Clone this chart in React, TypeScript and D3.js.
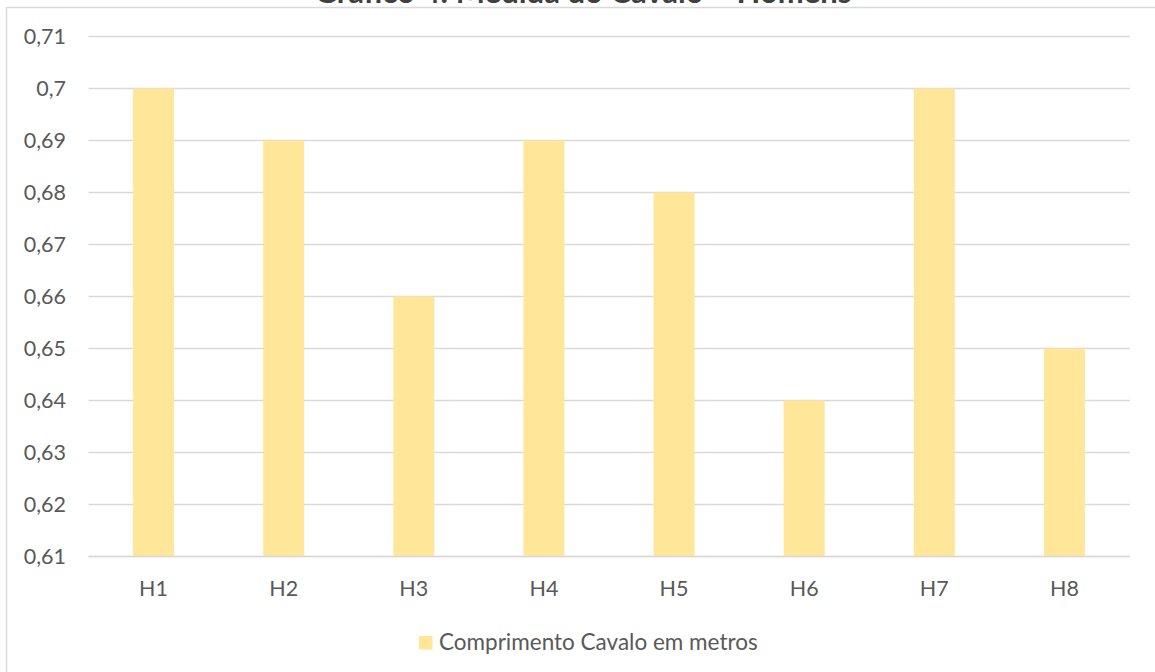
import React from "react";
import * as d3 from "d3";

const categories = ["H1", "H2", "H3", "H4", "H5", "H6", "H7", "H8"];
const lengths = [0.7, 0.69, 0.66, 0.69, 0.68, 0.64, 0.7, 0.65];
const yTicks = [0.61, 0.62, 0.63, 0.64, 0.65, 0.66, 0.67, 0.68, 0.69, 0.7, 0.71];
const seriesName = "Comprimento Cavalo em metros";
const title = "Gráfico 4: Medida do Cavalo – Homens";

const W = 1155;
const H = 672;
const FONT = "Lato, 'Open Sans', sans-serif";
const TEXT = "#595959";
const GRID = "#d9d9d9";
const BAR = "#ffe699";

export default function App() {
  const x = d3
    .scaleBand<string>()
    .domain(categories)
    .range([88.5, 1129.5])
    .paddingInner(0.685)
    .paddingOuter(0.3425);
  const y = d3.scaleLinear().domain([0.61, 0.71]).range([556.5, 36.5]);
  const fmt = (v: number) => d3.format(".2~f")(v).replace(".", ",");

  return (
    <svg
      width={W}
      height={H}
      style={{ position: "absolute", left: 0, top: 0, background: "#fff" }}
      fontFamily={FONT}
    >
      <rect x={6.5} y={7.5} width={1160} height={700} fill="#fff" stroke={GRID} strokeWidth={1.5} />
      <text x={583} y={3} textAnchor="middle" fontSize={31} fontWeight="bold" fill="#404040">
        {title}
      </text>
      {yTicks.map((t) => (
        <g key={t}>
          <line x1={88.5} x2={1130} y1={y(t)} y2={y(t)} stroke={GRID} strokeWidth={1.5} />
          <text x={66} y={y(t)} dy="0.35em" textAnchor="end" fontSize={21.5} fill={TEXT}>
            {fmt(t)}
          </text>
        </g>
      ))}
      {categories.map((c, i) => (
        <rect
          key={c}
          x={x(c)}
          y={y(lengths[i])}
          width={x.bandwidth()}
          height={y(0.61) - y(lengths[i])}
          fill={BAR}
        />
      ))}
      <line x1={88.5} x2={1130} y1={y(0.61)} y2={y(0.61)} stroke={GRID} strokeWidth={1.5} />
      {categories.map((c) => (
        <text
          key={c}
          x={(x(c) ?? 0) + x.bandwidth() / 2}
          y={588}
          dy="0.35em"
          textAnchor="middle"
          fontSize={21.5}
          fill={TEXT}
        >
          {c}
        </text>
      ))}
      <rect x={419} y={636} width={13.5} height={13.5} fill={BAR} />
      <text x={439} y={642.5} dy="0.35em" fontSize={22.5} fill={TEXT}>
        {seriesName}
      </text>
    </svg>
  );
}
